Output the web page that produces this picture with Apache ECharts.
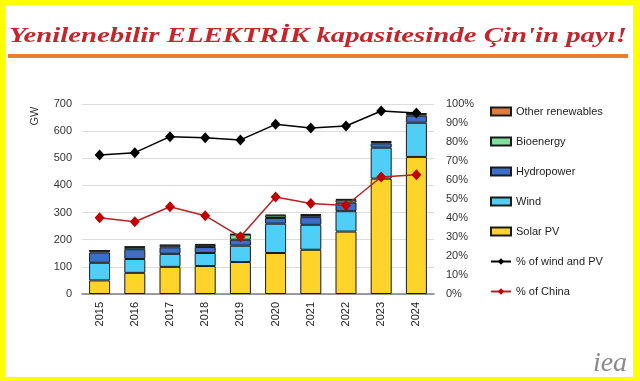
<!DOCTYPE html>
<html><head><meta charset="utf-8">
<script src="https://cdn.jsdelivr.net/npm/echarts@6/dist/echarts.min.js"></script>
<style>
html,body{margin:0;padding:0;background:#FFFF00;}
#bg{position:absolute;left:6px;top:5px;width:627px;height:372px;background:#fff;}
#chart{position:absolute;left:0;top:0;width:640px;height:381px;}
</style></head>
<body><div id="bg"></div><div id="chart"></div>
<script>
const years = ['2015','2016','2017','2018','2019','2020','2021','2022','2023','2024'];
const solarPV = [50, 78, 100, 103, 118, 151, 163, 230, 425, 505];
const wind = [65, 51, 48, 48, 60, 108, 92, 75, 114, 126];
const hydropower = [38, 36, 24, 22, 22, 21, 28, 32, 16, 26];
const bioenergy = [6, 8, 7, 8, 19, 9, 8, 10, 5, 6];
const otherRenewables = [2, 2, 2, 3, 2, 3, 3, 3, 3, 3];
const shareWindPV = [73.2, 74.4, 82.8, 82.3, 81.1, 89.3, 87.4, 88.4, 96.3, 95.3];
const shareChina = [40.1, 38.0, 45.9, 41.2, 30.1, 51.0, 47.6, 46.6, 61.6, 62.7];
const leftTicks = {min: 0, max: 700, interval: 100};
const rightTicks = {min: 0, max: 100, interval: 10};
const titleText = "Yenilenebilir ELEKTRİK kapasitesinde Çin'in payı!";

const titleFont = 'bold italic 21px "Liberation Serif"';
const cv = document.createElement('canvas').getContext('2d');
cv.font = titleFont;
const tw = cv.measureText(titleText).width;
const sx = 618 / tw;

const chart = echarts.init(document.getElementById('chart'), null, {renderer:'canvas'});
const barBorder = {borderColor:'#1a1a1a', borderWidth:1};
function bar(name, data, color){
  return {name, type:'bar', stack:'cap', data, barWidth:21,
    itemStyle:Object.assign({color}, barBorder), emphasis:{disabled:true}};
}
chart.setOption({
  backgroundColor:'transparent',
  animation:false,
  textStyle:{fontFamily:'"Liberation Sans", Arial, sans-serif'},
  grid:{left:82, right:206, top:104, bottom:87},
  xAxis:{type:'category', data:years,
    axisLine:{lineStyle:{color:'#7f7f7f', width:1.5}},
    axisTick:{show:false},
    axisLabel:{rotate:90, fontSize:11, color:'#222', margin:8}},
  yAxis:[
    {type:'value', min:leftTicks.min, max:leftTicks.max, interval:leftTicks.interval,
      axisLine:{show:false}, axisTick:{show:false},
      axisLabel:{fontSize:11, color:'#333', margin:10},
      splitLine:{lineStyle:{color:'#dcdcdc', width:1}}},
    {type:'value', min:rightTicks.min, max:rightTicks.max, interval:rightTicks.interval,
      axisLine:{show:false}, axisTick:{show:false},
      axisLabel:{fontSize:11, color:'#333', margin:12, formatter:'{value}%'},
      splitLine:{show:false}}
  ],
  legend:{orient:'vertical', left:485, top:101, itemGap:19, itemWidth:20, itemHeight:8,
    textStyle:{fontSize:11, color:'#222'},
    data:[{name:'Other renewables', icon:'rect'},{name:'Bioenergy', icon:'rect'},
      {name:'Hydropower', icon:'rect'},{name:'Wind', icon:'rect'},{name:'Solar PV', icon:'rect'},
      '% of wind and PV','% of China']},
  series:[
    bar('Solar PV', solarPV, '#FFD42A'),
    bar('Wind', wind, '#4FCFF7'),
    bar('Hydropower', hydropower, '#3C6FC6'),
    bar('Bioenergy', bioenergy, '#7FDF9B'),
    bar('Other renewables', otherRenewables, '#E07C3C'),
    {name:'% of wind and PV', type:'line', yAxisIndex:1, data:shareWindPV, z:5,
      symbol:'diamond', symbolSize:[10,11], lineStyle:{color:'#000', width:1.5},
      itemStyle:{color:'#000'}},
    {name:'% of China', type:'line', yAxisIndex:1, data:shareChina, z:5,
      symbol:'diamond', symbolSize:[10,11], lineStyle:{color:'#B02525', width:1.5},
      itemStyle:{color:'#C00000'}}
  ],
  graphic:[
    {type:'text', x:318, y:37, scaleX:sx, originX:0, style:{text:titleText, font:titleFont,
      fill:'#C4262E', align:'center', verticalAlign:'middle'}},
    {type:'rect', shape:{x:8, y:54, width:620, height:4}, style:{fill:'#ED7D31'}},
    {type:'text', x:35, y:116, rotation:Math.PI/2, style:{text:'GW', font:'11px "Liberation Sans"',
      fill:'#333', align:'center', verticalAlign:'middle'}},
    {type:'text', x:610, y:364, style:{text:'iea', font:'italic 28px "Liberation Serif"',
      fill:'#8a8a8a', align:'center', verticalAlign:'middle'}}
  ]
});
</script></body></html>
